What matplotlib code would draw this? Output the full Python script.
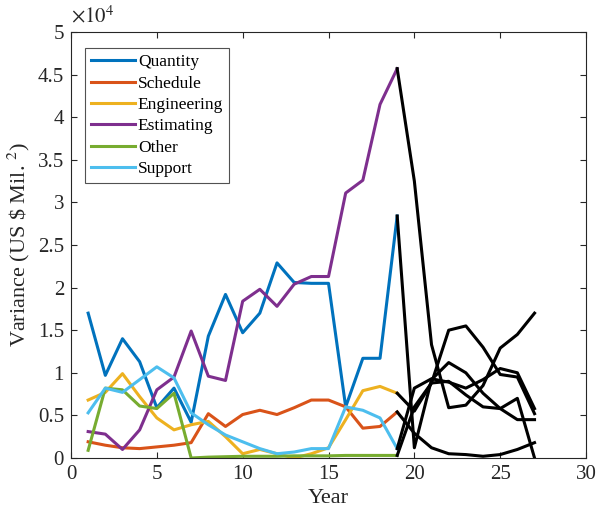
import numpy as np
import matplotlib
matplotlib.use("Agg")
import matplotlib.pyplot as plt
from matplotlib.ticker import FuncFormatter

plt.rcParams['font.family'] = ['Liberation Serif', 'DejaVu Serif']
plt.rcParams['mathtext.fontset'] = 'stix'

# history, years 1..19, values in units of 1e4
years = np.arange(1, 20)
quantity = [1.70, 0.97, 1.40, 1.13, 0.59, 0.82, 0.42, 1.43, 1.92, 1.47,
            1.70, 2.29, 2.06, 2.05, 2.05, 0.60, 1.17, 1.17, 2.84]
schedule = [0.19, 0.15, 0.12, 0.11, 0.13, 0.15, 0.18, 0.52, 0.37, 0.51,
            0.56, 0.51, 0.59, 0.68, 0.68, 0.60, 0.35, 0.37, 0.54]
engineering = [0.68, 0.77, 0.99, 0.72, 0.47, 0.33, 0.39, 0.43, 0.25, 0.05,
               0.10, 0.05, 0.00, 0.05, 0.12, 0.45, 0.79, 0.84, 0.76]
estimating = [0.31, 0.28, 0.10, 0.33, 0.80, 0.95, 1.49, 0.96, 0.91, 1.84,
              1.98, 1.78, 2.04, 2.13, 2.13, 3.11, 3.26, 4.15, 4.57]
other = [0.09, 0.82, 0.80, 0.61, 0.58, 0.76, 0.00, 0.01, 0.015, 0.02,
         0.02, 0.02, 0.025, 0.025, 0.025, 0.03, 0.03, 0.03, 0.03]
support = [0.53, 0.82, 0.77, 0.92, 1.07, 0.94, 0.53, 0.39, 0.27, 0.19,
           0.11, 0.05, 0.07, 0.11, 0.11, 0.60, 0.56, 0.47, 0.11]

# projections, years 19..27 (black)
proj_years = np.arange(19, 28)
proj_quantity = [2.84, 0.12, 0.92, 1.12, 1.00, 0.76, 0.58, 0.45, 0.45]
proj_schedule = [0.54, 0.29, 0.12, 0.05, 0.04, 0.02, 0.04, 0.10, 0.18]
proj_engineering = [0.76, 0.55, 0.88, 1.50, 1.55, 1.30, 0.98, 0.95, 0.52]
proj_estimating = [4.57, 3.25, 1.33, 0.59, 0.62, 0.85, 1.29, 1.45, 1.70]
proj_other = [0.03, 0.60, 0.88, 0.90, 0.74, 0.60, 0.58, 0.70, 0.00]
proj_support = [0.11, 0.82, 0.93, 0.89, 0.82, 0.92, 1.05, 1.00, 0.58]

names = ['Quantity', 'Schedule', 'Engineering', 'Estimating', 'Other', 'Support']
colours = ['#0072BD', '#D95319', '#EDB120', '#7E2F8E', '#77AC30', '#4DBEEE']

fig = plt.figure(figsize=(5.98, 5.12), dpi=100)
ax = fig.add_axes([0.1187, 0.1055, 0.8613, 0.832])

series = [quantity, schedule, engineering, estimating, other, support]
for vals, name, c in zip(series, names, colours):
    ax.plot(years, vals, color=c, lw=2.2, label=name)

for vals in [proj_quantity, proj_schedule, proj_engineering,
             proj_estimating, proj_other, proj_support]:
    ax.plot(proj_years, vals, color='black', lw=2.2)

ax.set_xlim(0, 30)
ax.set_ylim(0, 5)
ax.set_xticks(np.arange(0, 31, 5))
ax.set_yticks(np.arange(0, 5.01, 0.5))
ax.yaxis.set_major_formatter(FuncFormatter(lambda v, p: '%g' % v))
ax.tick_params(direction='in', length=4, labelsize=15, colors='#262626',
               top=True, right=True, pad=5)
for s in ax.spines.values():
    s.set_color('#262626')
    s.set_linewidth(0.8)

ax.set_xlabel('Year', fontsize=16, color='#262626', labelpad=4)
ax.set_ylabel(r'Variance (US \$ Mil. $^{2}$)', fontsize=16, color='#262626', labelpad=4)
ax.text(0.0, 1.01, r'$\times10^{4}$', transform=ax.transAxes, fontsize=15,
        color='#262626', va='bottom', ha='left')

leg = ax.legend(loc='upper left', bbox_to_anchor=(0.027, 0.962), fontsize=12.5,
                frameon=True, fancybox=False, edgecolor='#262626',
                handlelength=2.55, handletextpad=0.15, labelspacing=0.3,
                borderpad=0.35, borderaxespad=0)
leg.get_frame().set_linewidth(0.8)

fig.savefig('out.png', dpi=100)
